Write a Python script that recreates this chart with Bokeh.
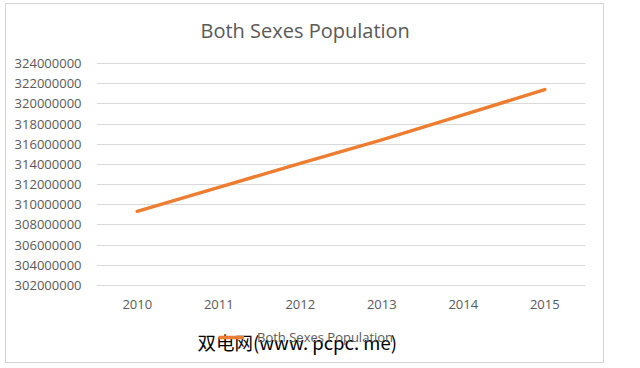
from bokeh.plotting import figure
from bokeh.layouts import column
from bokeh.models import (Range1d, FactorRange, FixedTicker, NumeralTickFormatter,
                          Legend, LegendItem, ColumnDataSource, Title, Label)
from bokeh.embed import file_html
from bokeh.resources import INLINE

# ---- data ----
years = ["2010", "2011", "2012", "2013", "2014", "2015"]
population = [309346863, 311718857, 314102623, 316427395, 318907401, 321418820]
y_ticks = [302000000, 304000000, 306000000, 308000000, 310000000, 312000000,
           314000000, 316000000, 318000000, 320000000, 322000000, 324000000]
title_text = "Both Sexes Population"
series_name = "Both Sexes Population"
watermark = "双电网(www. pcpc. me)"

FONT = "Open Sans"
GREY = "#595959"
ORANGE = "#ED7D31"

src = ColumnDataSource(data=dict(year=years, pop=population))

# ---------- main chart ----------
pad = (y_ticks[-1] - y_ticks[0]) / 222.0
p = figure(width=597, height=314,
           x_range=FactorRange(*years),
           y_range=Range1d(y_ticks[0] - pad, y_ticks[-1] + pad),
           output_backend="svg", toolbar_location=None,
           min_border_left=90, min_border_right=18,
           min_border_top=58, min_border_bottom=32)
p.background_fill_color = "white"
p.border_fill_color = "white"
p.outline_line_color = None

p.xgrid.grid_line_color = None
p.ygrid.grid_line_color = "#d9d9d9"
p.ygrid.grid_line_width = 1

for ax in (p.xaxis[0], p.yaxis[0]):
    ax.axis_line_color = None
    ax.major_tick_line_color = None
    ax.minor_tick_line_color = None
    ax.major_label_text_font = FONT
    ax.major_label_text_font_size = "13px"
    ax.major_label_text_color = GREY

p.yaxis.ticker = FixedTicker(ticks=y_ticks)
p.yaxis.formatter = NumeralTickFormatter(format="0")
p.yaxis.major_label_standoff = 9
p.xaxis.major_label_standoff = 7

p.line(x="year", y="pop", source=src, line_color=ORANGE, line_width=3.5,
       line_cap="round", line_join="round")

p.add_layout(Title(text=" ", standoff=0, text_font_size="16px"), "above")
p.add_layout(Title(text=title_text, align="left", offset=104, standoff=0,
                   text_font=FONT, text_font_size="20px", text_font_style="normal",
                   text_color=GREY), "above")

# ---------- legend strip (frame aligned with the chart's frame) ----------
q = figure(width=597, height=44, x_axis_type=None, y_axis_type=None,
           output_backend="svg", toolbar_location=None,
           min_border_left=0, min_border_right=0, min_border_top=0, min_border_bottom=0)
q.background_fill_color = "white"
q.border_fill_color = "white"
q.outline_line_color = None
q.grid.grid_line_color = None
key = q.line(x=[float("nan")], y=[float("nan")], line_color=ORANGE, line_width=3.5)

legend = Legend(items=[LegendItem(label=series_name, renderers=[key])],
                location=(122, 15), border_line_color=None,
                background_fill_alpha=0, padding=0, margin=0,
                glyph_width=26, glyph_height=20, label_height=20,
                label_standoff=13, spacing=0,
                label_text_font=FONT, label_text_font_size="13px",
                label_text_color=GREY)
q.add_layout(legend)

q.add_layout(Label(x=101, y=21, x_units="screen", y_units="screen", text=watermark,
                   text_align="left", text_baseline="middle",
                   text_font="Noto Sans CJK SC", text_font_size="18.5px",
                   text_color="black"))

layout = column(p, q, spacing=0)
layout.styles = {"margin-left": "5px", "margin-top": "3px",
                 "border": "1px solid #d4d4d4"}

open("out.html", "w").write(file_html(layout, INLINE))
